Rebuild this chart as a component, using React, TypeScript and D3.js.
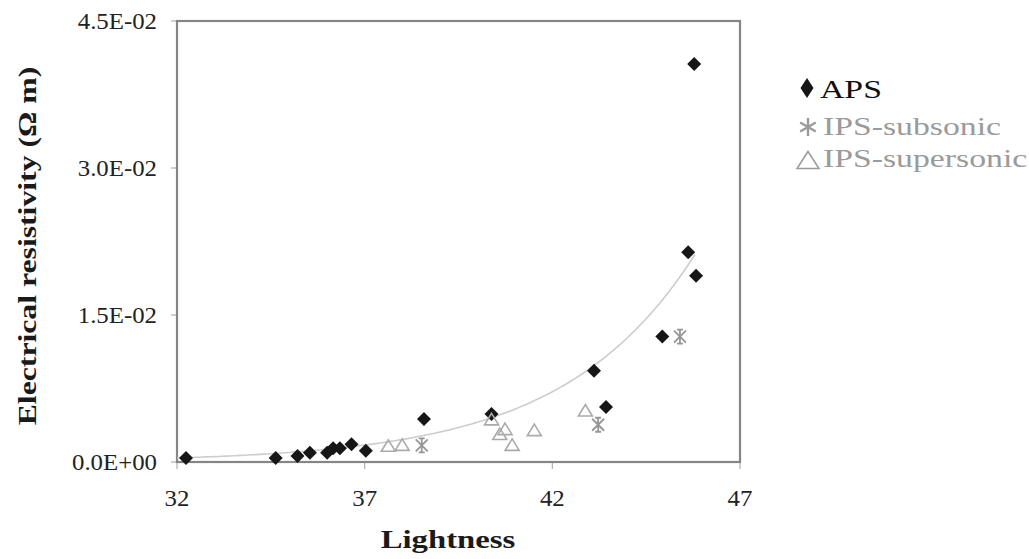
import React from 'react';
import * as d3 from 'd3';

// Axis ticks
const xTicks = [32, 37, 42, 47];
const xTickLabels = ['32', '37', '42', '47'];
const yTicks = [0, 0.015, 0.03, 0.045];
const yTickLabels = ['0.0E+00', '1.5E-02', '3.0E-02', '4.5E-02'];

// APS (air plasma spray)
const apsLightness = [32.24, 34.63, 35.21, 35.54, 36.0, 36.16, 36.34, 36.65, 37.03, 38.58, 40.38, 43.11, 43.43, 44.93, 45.62, 45.83, 45.78];
const apsResistivity = [0.0004, 0.0004, 0.0006, 0.00095, 0.00095, 0.0014, 0.0014, 0.0018, 0.00115, 0.0044, 0.0049, 0.0093, 0.0056, 0.0128, 0.0214, 0.019, 0.0406];

// IPS, subsonic nozzle
const subLightness = [38.52, 43.22, 45.4];
const subResistivity = [0.0017, 0.0038, 0.0128];

// IPS, supersonic nozzle
const superLightness = [37.63, 38.0, 40.38, 40.74, 40.6, 40.93, 41.52, 42.88];
const superResistivity = [0.0016, 0.0017, 0.0043, 0.0033, 0.0028, 0.0017, 0.0032, 0.0052];

// Exponential trendline y = a * exp(b * x)
const trendA = 4.54e-8;
const trendB = 0.285;
const trendFrom = 32;
const trendTo = 45.8;

const legendLabels = ['APS', 'IPS-subsonic', 'IPS-supersonic'];

const W = 1029;
const H = 559;
const M = { left: 177, top: 21, right: 740, bottom: 462 };
const FONT = '"Liberation Serif", "Times New Roman", serif';

const diamondPath = 'M0,-7L7,0L0,7L-7,0Z';
const trianglePath = 'M0,-6.5L7,5L-7,5Z';
const starPath = 'M0,-7V7M-6,-6L6,6M6,-6L-6,6M-3,-7H3M-3,7H3';

type STextProps = {
  x: number;
  y: number;
  sx?: number;
  rotate?: number;
  anchor?: 'start' | 'middle' | 'end';
  size: number;
  weight?: string;
  fill?: string;
  children: React.ReactNode;
};

function SText({ x, y, sx = 1, rotate = 0, anchor = 'start', size, weight = 'normal', fill = '#222', children }: STextProps) {
  return (
    <text
      transform={`translate(${x},${y}) rotate(${rotate}) scale(${sx},1)`}
      textAnchor={anchor}
      fontFamily={FONT}
      fontSize={size}
      fontWeight={weight}
      fill={fill}
    >
      {children}
    </text>
  );
}

export default function App() {
  const x = d3.scaleLinear().domain([32, 47]).range([M.left, M.right]);
  const y = d3.scaleLinear().domain([0, 0.045]).range([M.bottom, M.top]);

  const trendXs = d3.range(trendFrom, trendTo + 1e-9, 0.1);
  const trendLine = d3
    .line<number>()
    .x((v) => x(v))
    .y((v) => y(trendA * Math.exp(trendB * v)))(trendXs) as string;

  const aps = apsLightness.map((v, i) => [v, apsResistivity[i]]);
  const sub = subLightness.map((v, i) => [v, subResistivity[i]]);
  const sup = superLightness.map((v, i) => [v, superResistivity[i]]);

  return (
    <svg width={W} height={H} style={{ position: 'absolute', left: 0, top: 0, background: '#fff' }}>
      <rect width={W} height={H} fill="#fff" />

      {/* ticks */}
      {yTicks.map((t) => (
        <line key={'yt' + t} x1={M.left - 6} x2={M.left} y1={y(t)} y2={y(t)} stroke="#b0b0b0" strokeWidth={1.2} />
      ))}
      {xTicks.map((t) => (
        <line key={'xt' + t} x1={x(t)} x2={x(t)} y1={M.bottom} y2={M.bottom + 7} stroke="#b0b0b0" strokeWidth={1.2} />
      ))}

      {/* plot frame */}
      <rect
        x={M.left}
        y={M.top}
        width={M.right - M.left}
        height={M.bottom - M.top}
        fill="none"
        stroke="#858585"
        strokeWidth={2.2}
      />

      {/* trendline */}
      <path d={trendLine} fill="none" stroke="#cdcdcd" strokeWidth={1.6} />

      {/* APS */}
      {aps.map(([a, b], i) => (
        <path key={'a' + i} d={diamondPath} transform={`translate(${x(a)},${y(b)})`} fill="#161616" />
      ))}
      {/* IPS subsonic */}
      {sub.map(([a, b], i) => (
        <path key={'s' + i} d={starPath} transform={`translate(${x(a)},${y(b)})`} fill="none" stroke="#969696" strokeWidth={1.8} />
      ))}
      {/* IPS supersonic */}
      {sup.map(([a, b], i) => (
        <path key={'p' + i} d={trianglePath} transform={`translate(${x(a)},${y(b)})`} fill="none" stroke="#aaaaaa" strokeWidth={1.6} />
      ))}

      {/* tick labels */}
      {yTicks.map((t, i) => (
        <SText key={'yl' + t} x={157} y={y(t) + 8} anchor="end" size={23} sx={1.08}>
          {yTickLabels[i]}
        </SText>
      ))}
      {xTicks.map((t, i) => (
        <SText key={'xl' + t} x={x(t)} y={506} anchor="middle" size={23} sx={1.08}>
          {xTickLabels[i]}
        </SText>
      ))}

      {/* axis titles */}
      <SText x={448} y={548} anchor="middle" size={26} sx={1.26} weight="bold" fill="#1a1a1a">
        Lightness
      </SText>
      <SText x={36} y={246} rotate={-90} anchor="middle" size={26} sx={1.22} weight="bold" fill="#1a1a1a">
        Electrical resistivity (Ω m)
      </SText>

      {/* legend */}
      <g>
        <path d="M0,-10L6.5,0L0,10L-6.5,0Z" transform="translate(807,88)" fill="#161616" />
        <SText x={820} y={98} size={25} sx={1.35} fill="#111">
          {legendLabels[0]}
        </SText>
        <path
          d="M0,-9V9M-7.8,-4.5L7.8,4.5M7.8,-4.5L-7.8,4.5"
          transform="translate(808,127)"
          fill="none"
          stroke="#9a9a9a"
          strokeWidth={2.4}
        />
        <SText x={823} y={135} size={25} sx={1.35} fill="#9a9a9a">
          {legendLabels[1]}
        </SText>
        <path d="M0,-8.5L11,8.5L-11,8.5Z" transform="translate(808,160)" fill="none" stroke="#9a9a9a" strokeWidth={1.5} />
        <SText x={823} y={167} size={25} sx={1.35} fill="#9a9a9a">
          {legendLabels[2]}
        </SText>
      </g>
    </svg>
  );
}
